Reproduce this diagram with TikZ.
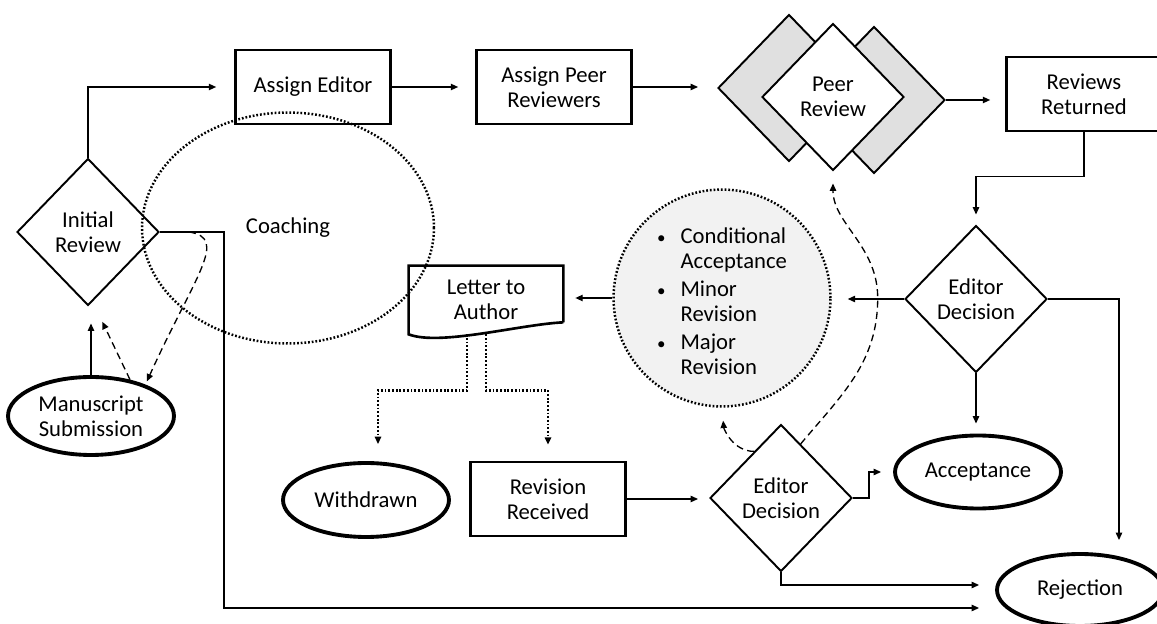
\documentclass[tikz,border=0pt]{standalone}
\usepackage{fontspec}
\setmainfont{Carlito}
\usetikzlibrary{arrows.meta,shapes.geometric,calc}
\tikzset{
  process/.style={draw=black,line width=1.5pt,fill=white,rectangle,
    minimum width=3.1cm,minimum height=1.48cm,inner sep=1pt,align=center},
  decision/.style={draw=black,line width=1.1pt,fill=white,diamond,
    minimum width=2.84cm,minimum height=2.94cm,inner sep=0pt,align=center},
  peerback/.style={decision,fill=black!12},
  terminator/.style={draw=black,line width=2.2pt,fill=white,ellipse,
    minimum width=3.32cm,minimum height=1.48cm,inner sep=0pt,align=center},
  dotline/.style={line width=1.4pt,dash pattern=on 1pt off 1.1pt},
  optcircle/.style={circle,draw=black,fill=black!5,dotline,
    minimum size=4.34cm,inner sep=0pt},
  coachzone/.style={ellipse,draw=black,dotline,
    minimum width=5.84cm,minimum height=4.62cm},
  flowarrow/.style={-{Triangle[length=4.2pt,width=3.6pt]},line width=0.75pt},
  dashedarrow/.style={flowarrow,dash pattern=on 4pt off 2.5pt},
  dottedarrow/.style={flowarrow,line width=1.5pt,dash pattern=on 1pt off 1.1pt},
}
\newcommand{\optbullet}{\scalebox{0.75}{\textbullet}}

\begin{document}
\begin{tikzpicture}[x=0.02cm,y=-0.02cm,font=\fontsize{12.9}{14.1}\selectfont]
  \useasboundingbox (0,0) rectangle (1157,624);
  \clip (0,0) rectangle (1157,624);
  \node[decision] (init) at (88,232) {Initial\\Review};
  \node[terminator,minimum height=1.56cm] (manu) at (91,416) {Manuscript\\Submission};
  \node[process] (editor) at (313,87) {Assign Editor};
  \node[process] (reviewers) at (554,87) {Assign Peer\\Reviewers};
  \node[peerback] (peerL) at (789,88) {};
  \node[peerback] (peerR) at (874,100) {};
  \node[decision] (peer) at (833,97) {Peer\\Review};
  \node[process] (returned) at (1084,94) {Reviews\\Returned};
  \node[decision] (dec1) at (976,299) {Editor\\Decision};
  \node[optcircle] (opts) at (722,298) {%
    \begin{tabular}{@{}l@{\hspace{0.3cm}}l@{}}
      \rule{0pt}{0.58cm}\optbullet & Conditional\\
                 & Acceptance\\[2pt]
      \optbullet & Minor\\
                 & Revision\\[2pt]
      \optbullet & Major\\
                 & Revision
    \end{tabular}};
  \node[minimum width=3.08cm,minimum height=1.36cm,inner sep=0pt,align=center] (letter) at (486,300) {Letter to\\Author};
  \draw[line width=1.5pt,line join=miter] ([yshift=0.24cm]letter.south east) -- (letter.north east)
    -- (letter.north west) -- (letter.south west)
    .. controls +(31,12) and +(-43,2) .. ([yshift=0.24cm]letter.south east);
  \node[terminator] (withdrawn) at (366,500) {Withdrawn};
  \node[process] (revision) at (548,499) {Revision\\Received};
  \node[decision] (dec2) at (781,498) {Editor\\Decision};
  \node[terminator,minimum height=1.46cm] (accept) at (978,472) {Acceptance};
  \node[terminator,minimum height=1.44cm] (reject) at (1080,590) {Rejection};

  \draw[flowarrow,shorten >=0.36cm] (init.north) |- (editor.west);
  \draw[flowarrow,shorten >=0.34cm] (editor.east) -- (editor.east -| reviewers.west);
  \draw[flowarrow,shorten >=0.38cm] (reviewers.east) -- (reviewers.east -| peerL.west);
  \draw[flowarrow,shorten >=0.3cm] (peerR.east) -- (peerR.east -| returned.west);
  \draw[flowarrow,shorten >=0.2cm] (returned.south) -- ++(0,44) -| (dec1.north);
  \draw[flowarrow,shorten >=0.32cm] (dec1.west) -- (dec1.west -| opts.east);
  \draw[flowarrow,shorten >=0.24cm] (dec1.east) -| ([xshift=0.78cm]reject.north);
  \draw[flowarrow,shorten >=0.2cm] (dec1.south) -- (dec1.south |- accept.north);
  \draw[flowarrow,shorten >=0.24cm] (opts.west) -- (opts.west -| letter.east);
  \draw[dottedarrow,shorten >=0.34cm] ([xshift=-0.38cm]letter.south) -- ++(0,56) -| ([xshift=0.24cm]withdrawn.north);
  \draw[dottedarrow,shorten >=0.32cm] (letter.south) -- ++(0,56) -| (revision.north);
  \draw[flowarrow,shorten >=0.22cm] (revision.east) -- (revision.east -| dec2.west);
  \draw[flowarrow,shorten >=0.24cm] (dec2.east) -- ++(16,0) |- (accept.west);
  \draw[flowarrow,shorten >=0.32cm] (dec2.south) |- ([yshift=0.1cm]reject.west);
  \draw[flowarrow,shorten >=0.32cm] (init.east) -- ++(64,0) |- ([yshift=-0.36cm]reject.west);
  \draw[flowarrow,shorten >=0.34cm] (manu.north) -- (manu.north |- init.south);
  \draw[dashedarrow,shorten >=0.34cm] (manu.43) -- ([xshift=0.14cm]init.south);
  \draw[dashedarrow,shorten >=2pt] ([xshift=0.58cm]init.east) .. controls +(40,6) and +(50,-110) .. (manu.30);
  \draw[dashedarrow,shorten >=0.26cm] (dec2.120) to[out=180,in=-85] (opts.south);
  \draw[dashedarrow,shorten >=0.24cm] (dec2.70) to[out=50,in=-90] ($(opts.east)+(46,0)$)
    to[out=90,in=-90] (peer.south);

  \node[coachzone] (coach) at (288,228) {Coaching};
\end{tikzpicture}
\end{document}
